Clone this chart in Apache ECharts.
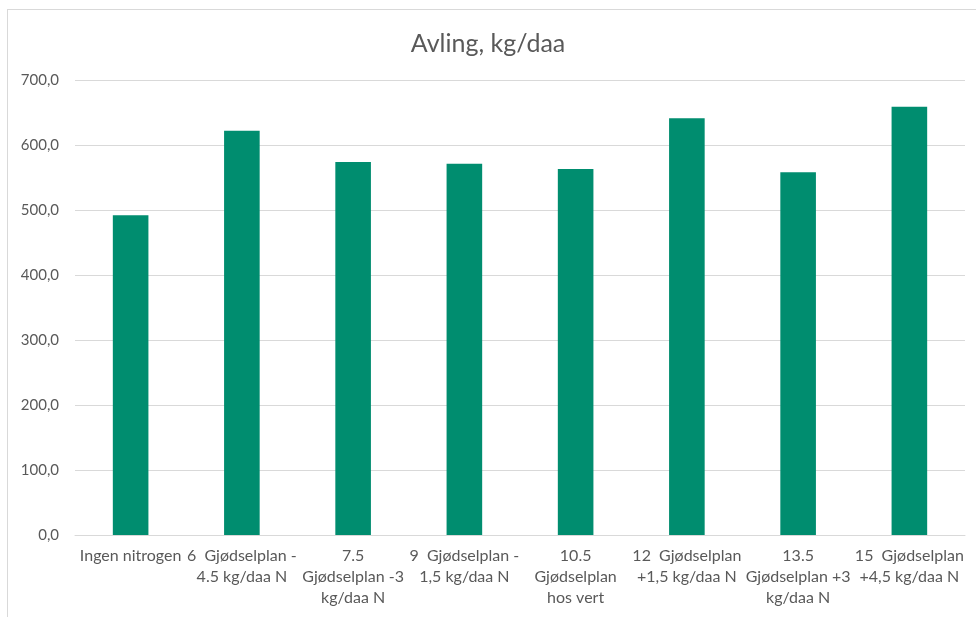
<!DOCTYPE html>
<html>
<head>
<meta charset="utf-8">
<script src="https://cdn.jsdelivr.net/npm/echarts@6/dist/echarts.min.js"></script>
<style>
  html, body { margin: 0; padding: 0; background: #fff; }
  #frame {
    position: absolute; left: 7px; top: 9px; width: 990px; height: 640px;
    border: 1px solid #d9d9d9; box-sizing: border-box;
  }
  #main { position: absolute; left: 0; top: 0; width: 976px; height: 617px; }
</style>
</head>
<body>
<div id="frame"></div>
<div id="main"></div>
<script>
// kategorier (x-akse)
const categories = [
  'Ingen nitrogen',
  '6  Gjødselplan -\n4.5 kg/daa N',
  '7.5\nGjødselplan -3\nkg/daa N',
  '9  Gjødselplan -\n1,5 kg/daa N',
  '10.5\nGjødselplan\nhos vert',
  '12  Gjødselplan\n+1,5 kg/daa N',
  '13.5\nGjødselplan +3\nkg/daa N',
  '15  Gjødselplan\n+4,5 kg/daa N'
]
// avling, kg/daa
const avling = [492, 622, 574, 571, 563, 641, 558, 659]
const yTicks = [0, 100, 200, 300, 400, 500, 600, 700]

const chartObj = echarts.init(document.getElementById('main'), null, { renderer: 'canvas' })
const textColor = '#595959'
const font = 'Lato, "Open Sans", sans-serif'

const option = {
  animation: false,
  textStyle: { fontFamily: font },
  title: {
    text: 'Avling, kg/daa',
    left: 'center',
    top: 26,
    textStyle: { color: textColor, fontSize: 25, fontWeight: 'normal', fontFamily: font }
  },
  grid: {
    left: 75,
    right: 11,
    top: 80,
    bottom: 82,
    containLabel: false
  },
  xAxis: {
    type: 'category',
    data: categories,
    axisTick: { show: false },
    axisLine: { lineStyle: { color: '#d9d9d9', width: 1 } },
    axisLabel: {
      color: textColor,
      fontSize: 16,
      lineHeight: 21,
      margin: 10,
      interval: 0,
      fontFamily: font
    }
  },
  yAxis: {
    type: 'value',
    min: yTicks[0],
    max: yTicks[yTicks.length - 1],
    interval: 100,
    axisLine: { show: false },
    axisTick: { show: false },
    axisLabel: {
      color: textColor,
      fontSize: 15,
      margin: 16,
      fontFamily: font,
      formatter: v => v.toFixed(1).replace('.', ',')
    },
    splitLine: { lineStyle: { color: '#d9d9d9', width: 1 } }
  },
  series: [{
    name: 'Avling',
    type: 'bar',
    data: avling,
    barWidth: '32%',
    itemStyle: { color: '#008D6F' }
  }]
}
chartObj.setOption(option)
</script>
</body>
</html>
